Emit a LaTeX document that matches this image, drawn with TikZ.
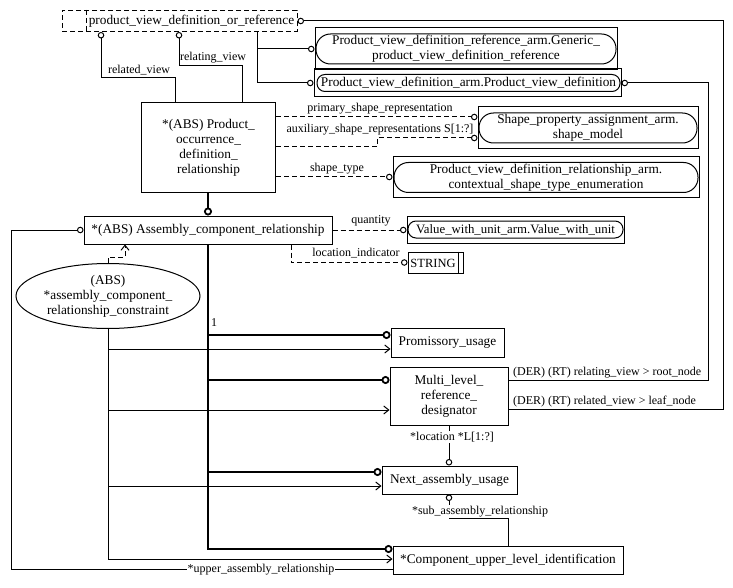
\documentclass[tikz,border=0pt]{standalone}
\usepackage{fontspec}
\setmainfont{Liberation Serif}
\usetikzlibrary{arrows.meta,shapes.geometric}
\begin{document}
\begin{tikzpicture}[x=1pt,y=-1pt,
  every node/.style={inner sep=0pt},
  bf/.style={font=\fontsize{13.3}{15}\selectfont},
  lf/.style={font=\fontsize{12}{13.5}\selectfont},
  box/.style={draw, line width=1pt, bf, align=center},
  stad/.style={draw, line width=1pt, bf, align=center},
  ln/.style={line width=1pt},
  dsh/.style={line width=1pt, dash pattern=on 5pt off 3pt},
  oc/.style={-{Circle[open,length=6.5pt,width=6.5pt]}},
  ocs/.style={{Circle[open,length=6.5pt,width=6.5pt]}-},
  bus/.style={line width=2.8pt},
  boc/.style={-{Circle[open,length=8pt,width=8pt,line width=1.8pt]}},
  barb/.style={-{Straight Barb[length=5pt,width=8pt]}},
  lbl/.style={lf, fill=white, inner sep=1pt}
]
\useasboundingbox (0,0) rectangle (733,588);

% top dashed select box
\node[draw, dsh, minimum width=235, minimum height=21] (pvdor) at (179.5,21) {};
\node[bf] (pvdortxt) at (191.5,21) {product\_view\_definition\_or\_reference};
\draw[dsh] (pvdor.north -| 86,0) -- (pvdor.south -| 86,0);

% generic reference
\node[draw, ln, minimum width=302, minimum height=42] (gen) at (466,49) {};
\node[stad, minimum width=300, minimum height=30, rounded corners=14.5pt] (genin) at (466,49)
  {Product\_view\_definition\_reference\_arm.Generic\_\\product\_view\_definition\_reference};

% product view definition arm
\node[draw, ln, minimum width=307, minimum height=28] (pvdarm) at (467.5,83) {};
\node[stad, minimum width=303, minimum height=17, rounded corners=8pt] (pvdarmin) at (468.5,83)
  {Product\_view\_definition\_arm.Product\_view\_definition};

% shape model
\node[draw, ln, minimum width=220, minimum height=42] (shp) at (588,128) {};
\node[stad, minimum width=218, minimum height=30, rounded corners=14.5pt] (shpin) at (588,128)
  {Shape\_property\_assignment\_arm.\\shape\_model};

% contextual shape type enumeration
\node[draw, ln, minimum width=306, minimum height=41] (pvdr) at (546,177.5) {};
\node[stad, minimum width=304, minimum height=30, rounded corners=14.5pt] (pvdrin) at (546,177.5)
  {Product\_view\_definition\_relationship\_arm.\\contextual\_shape\_type\_enumeration};

% value with unit
\node[draw, ln, minimum width=217, minimum height=27] (vwu) at (515.5,229.5) {};
\node[stad, font=\fontsize{12.8}{14}\selectfont, minimum width=215, minimum height=17, rounded corners=8pt] (vwuin) at (515.5,229.5)
  {Value\_with\_unit\_arm.Value\_with\_unit};

% STRING
\node[draw, ln, minimum width=55, minimum height=21] (str) at (435.5,262.5) {};
\node[font=\fontsize{12.5}{14}\selectfont] (strtxt) at (433,263) {STRING};
\draw[ln] (str.north -| 458,0) -- (str.south -| 458,0);

% main entities
\node[box, minimum width=134, minimum height=90] (pod) at (208.5,148)
  {*(ABS) Product\_\\occurrence\_\\definition\_\\relationship};
\node[box, minimum width=248, minimum height=28] (acr) at (208,230)
  {*(ABS) Assembly\_component\_relationship};
\node[draw, ln, ellipse, bf, align=center, minimum width=184, minimum height=65] (ell) at (108,296)
  {(ABS)\\*assembly\_component\_\\relationship\_constraint};
\node[box, minimum width=113, minimum height=29] (pu) at (447.5,342.5) {Promissory\_usage};
\node[box, minimum width=118, minimum height=58] (mlrd) at (449,396)
  {Multi\_level\_\\reference\_\\designator};
\node[box, minimum width=135, minimum height=28] (nau) at (449.5,480) {Next\_assembly\_usage};
\node[box, minimum width=230, minimum height=28] (culi) at (508,560)
  {*Component\_upper\_level\_identification};

% connectors from top select
\draw[ln,ocs] (pvdor.south -| 101,0) |- (175,78) -- (pod.north -| 175,0);
\draw[ln,ocs] (pvdor.south -| 179,0) |- (242,66) -- (pod.north -| 242,0);
\node[lf] (lrv) at (139,70) {related\_view};
\node[lf] (lrg) at (213,58) {relating\_view};
\draw[ln,oc] (pvdor.south -| 257,0) |- (pvdarm.west);
\coordinate (j1) at (257,49);
\draw[ln,oc] (j1) -- (gen.west);

% derived relations
\draw[ln,oc] (mlrd.east |- 0,380) -| (708,83) -- (pvdarm.east);
\draw[ln,oc] (mlrd.east |- 0,409) -| (723,21) -- (pvdor.east);
\node[lf, anchor=west] (lroot) at (513,373) {(DER) (RT) relating\_view > root\_node};
\node[lf, anchor=west] (lleaf) at (513,402) {(DER) (RT) related\_view > leaf\_node};

% dashed attributes
\draw[dsh,oc] (pod.east |- 0,117) -- (shp.west |- 0,117);
\draw[dsh,oc] (pod.east |- 0,147) -| (377,138) -- (shp.west |- 0,138);
\draw[dsh,oc] (pod.east |- 0,177) -- (pvdr.west |- 0,177);
\node[lf] (lpsr) at (380,109) {primary\_shape\_representation};
\node[lf] (lasr) at (380,130) {auxiliary\_shape\_representations S[1:?]};
\node[lf] (lst) at (337,169) {shape\_type};

\draw[dsh,oc] (acr.east) -- (vwu.west |- acr.east);
\draw[dsh,oc] (acr.south -| 291,0) |- (str.west);
\node[lf] (lq) at (371,221) {quantity};
\node[lf] (lli) at (356,253) {location\_indicator};

% constraint
\draw[dsh,barb] (ell.north) |- (125,257) -- (acr.south -| 125,0);
\draw[ln,barb] (ell.south) |- (pu.west |- 0,349);
\draw[ln,barb] (ell.south) |- (mlrd.west |- 0,410);
\draw[ln,barb] (ell.south) |- (nau.west |- 0,486);
\draw[ln,barb] (ell.south) |- (culi.west |- 0,559);

% supertype bus
\draw[bus,boc] (pod.south -| acr.north) -- (acr.north);
\draw[bus,boc] (acr.south) |- (culi.west |- 0,549);
\draw[bus,boc] (acr.south |- 0,335) -- (pu.west |- 0,335);
\draw[bus,boc] (acr.south |- 0,380) -- (mlrd.west |- 0,380);
\draw[bus,boc] (acr.south |- 0,472) -- (nau.west |- 0,472);
\node[lf] (lone) at (214,323) {1};

% bottom relations
\draw[ln,oc] (mlrd.south -| 449,0) -- (nau.north -| 449,0);
\node[lbl] (lloc) at (452,437) {*location *L[1:?]};
\draw[ln,ocs] (nau.south -| 449,0) |- (508,518) -- (culi.north);
\node[lbl, anchor=base] (lsub) at (480,514) {*sub\_assembly\_relationship};
\draw[ln,oc] (culi.west |- 0,569) -| (11,230) -- (acr.west);
\node[lbl] (lup) at (261,570) {*upper\_assembly\_relationship};
\end{tikzpicture}
\end{document}
